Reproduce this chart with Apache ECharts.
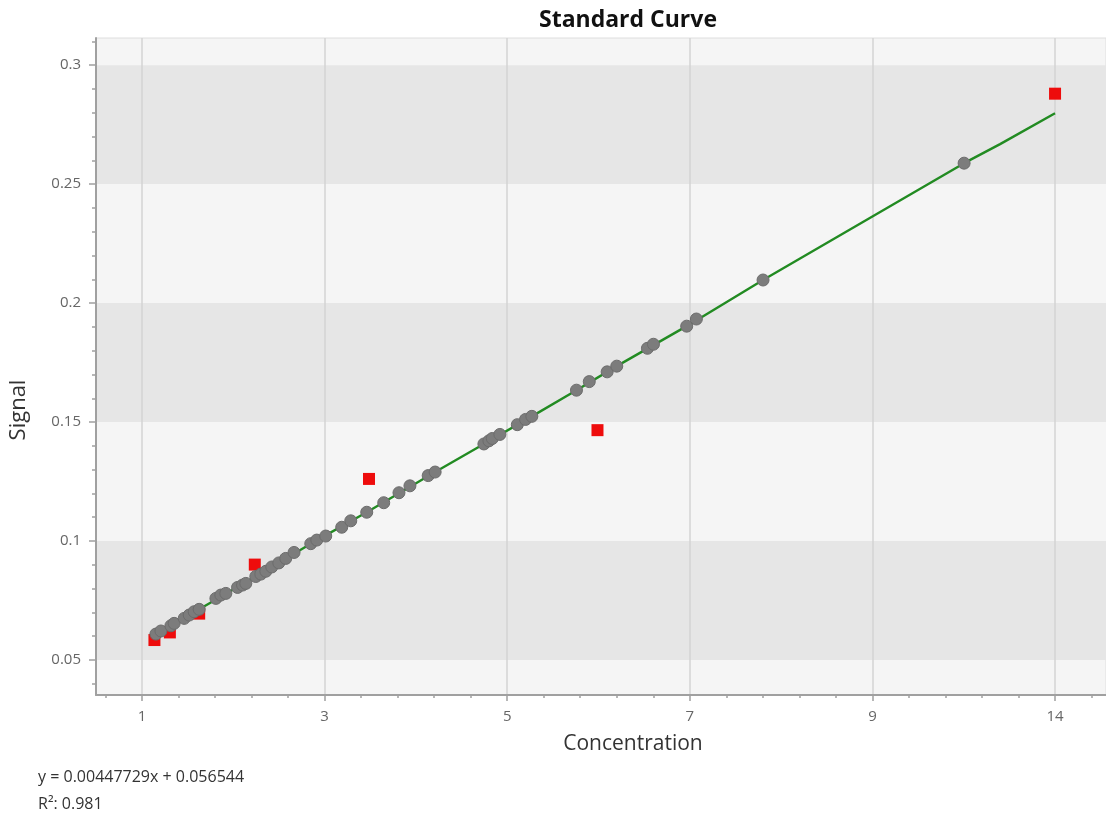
<!DOCTYPE html>
<html>
<head>
<meta charset="utf-8">
<script src="https://cdn.jsdelivr.net/npm/echarts@6/dist/echarts.min.js"></script>
<style>
html,body{margin:0;padding:0;background:#fff;}
#chart{width:1106px;height:820px;}
</style>
</head>
<body>
<div id="chart"></div>
<script>
// ---- data (x in axis-position units; tick labels below) ----
const xTickPos = [1, 3, 5, 7, 9, 11];
const xTickLabels = ['1', '3', '5', '7', '9', '14'];
const yTickPos = [0.05, 0.1, 0.15, 0.2, 0.25, 0.3];
const yTickLabels = ['0.05', '0.1', '0.15', '0.2', '0.25', '0.3'];

const sampleX = [1.153, 1.208, 1.317, 1.353, 1.463, 1.518, 1.572, 1.627, 1.810, 1.864,
  1.919, 2.047, 2.102, 2.138, 2.247, 2.302, 2.357, 2.422, 2.499, 2.575,
  2.666, 2.849, 2.915, 3.013, 3.188, 3.287, 3.462, 3.648, 3.815, 3.935,
  4.135, 4.211, 4.745, 4.800, 4.837, 4.920, 5.111, 5.201, 5.270, 5.759,
  5.899, 6.095, 6.200, 6.536, 6.602, 6.966, 7.072, 7.802, 10.004];
const sampleY = [0.0609, 0.0622, 0.0644, 0.0654, 0.0675, 0.0689, 0.0703, 0.0713, 0.0759, 0.0773,
  0.0780, 0.0805, 0.0815, 0.0822, 0.0851, 0.0861, 0.0873, 0.0891, 0.0908, 0.0927,
  0.0952, 0.0989, 0.1004, 0.1021, 0.1058, 0.1085, 0.1121, 0.1161, 0.1203, 0.1232,
  0.1275, 0.1290, 0.1408, 0.1421, 0.1431, 0.1448, 0.1489, 0.1511, 0.1524, 0.1634,
  0.1670, 0.1711, 0.1735, 0.1810, 0.1827, 0.1903, 0.1933, 0.2097, 0.2588];

const stdX = [1.137, 1.306, 1.627, 2.236, 3.487, 5.989, 11.0];
const stdY = [0.0584, 0.0616, 0.0695, 0.0901, 0.1261, 0.1466, 0.2880];

const curveX = [1.153, 1.627, 2.247, 2.849, 3.462, 4.211, 4.745, 5.270, 5.759, 6.200, 6.966, 7.802, 10.004, 10.398, 11.0];
const curveY = [0.0609, 0.0713, 0.0851, 0.0989, 0.1121, 0.1290, 0.1408, 0.1524, 0.1634, 0.1735, 0.1903, 0.2097, 0.2588, 0.2668, 0.2798];

const titleText = 'Standard Curve';
const xName = 'Concentration';
const yName = 'Signal';
const eqLine1 = 'y = 0.00447729x + 0.056544';
const eqLine2 = 'R\u00B2: 0.981';

// ---- axis extents ----
const X_MIN = 0.497, X_MAX = 11.558;
const Y_MIN = 0.0353, Y_MAX = 0.3114;

function minorTicks(major, sub, lo, hi) {
  const step = (major[1] - major[0]) / sub;
  const out = [];
  const k0 = Math.ceil((lo - major[0]) / step - 1e-9);
  const k1 = Math.floor((hi - major[0]) / step + 1e-9);
  for (let k = k0; k <= k1; k++) {
    if (k % sub === 0) continue;
    out.push(Math.round((major[0] + k * step) * 1e6) / 1e6);
  }
  return out;
}
const xMinor = minorTicks(xTickPos, 5, X_MIN, X_MAX);
const yMinor = minorTicks(yTickPos, 5, Y_MIN, Y_MAX);

const zip = (a, b) => a.map((v, i) => [v, b[i]]);
const FONT = '"Open Sans", "Noto Sans", sans-serif';
const AXIS_COLOR = '#a0a0a0';

const chart = echarts.init(document.getElementById('chart'), null, {renderer: 'canvas'});
chart.setOption({
  animation: false,
  backgroundColor: '#ffffff',
  textStyle: {fontFamily: FONT},
  title: {
    text: titleText,
    left: 623,
    top: 4,
    textAlign: 'center',
    textStyle: {fontFamily: FONT, fontSize: 23, fontWeight: 'bold', color: '#111'}
  },
  grid: {
    left: 95, right: 0, top: 38, bottom: 125,
    show: true, backgroundColor: '#f5f5f5', borderColor: '#dedede', borderWidth: 1,
    containLabel: false
  },
  xAxis: [{
    type: 'value', min: X_MIN, max: X_MAX, position: 'bottom',
    name: xName, nameLocation: 'middle', nameGap: 39,
    nameTextStyle: {fontFamily: FONT, fontSize: 21, color: '#333', padding: [0, 0, 0, 64]},
    axisLine: {show: true, onZero: false, lineStyle: {color: AXIS_COLOR, width: 2}},
    axisTick: {show: true, customValues: xTickPos, length: 6, lineStyle: {color: AXIS_COLOR, width: 1.5}},
    axisLabel: {customValues: xTickPos, margin: 14, color: '#666', fontSize: 15, fontFamily: FONT,
      formatter: v => xTickLabels[xTickPos.indexOf(v)]},
    splitLine: {show: true, lineStyle: {color: '#d3d3d3', width: 1.5}},
    minorTick: {show: false}
  }, {
    type: 'value', min: X_MIN, max: X_MAX, position: 'bottom', gridIndex: 0,
    axisLine: {show: false},
    axisTick: {show: true, customValues: xMinor, length: 3, lineStyle: {color: AXIS_COLOR, width: 1.5}},
    axisLabel: {show: false},
    splitLine: {show: false}
  }],
  yAxis: [{
    type: 'value', min: Y_MIN, max: Y_MAX, position: 'left',
    name: yName, nameLocation: 'middle', nameGap: 66, nameRotate: 90,
    nameTextStyle: {fontFamily: FONT, fontSize: 22, color: '#333', padding: [0, 87, 0, 0]},
    axisLine: {show: true, onZero: false, lineStyle: {color: AXIS_COLOR, width: 2}},
    axisTick: {show: true, customValues: yTickPos, length: 7, lineStyle: {color: AXIS_COLOR, width: 1.5}},
    axisLabel: {customValues: yTickPos, margin: 15, color: '#666', fontSize: 15, fontFamily: FONT,
      formatter: v => yTickLabels[yTickPos.indexOf(v)]},
    splitLine: {show: false},
    splitArea: {show: true, areaStyle: {color: ['#e6e6e6', '#f5f5f5']}}
  }, {
    type: 'value', min: Y_MIN, max: Y_MAX, position: 'left', gridIndex: 0,
    axisLine: {show: false},
    axisTick: {show: true, customValues: yMinor, length: 4, lineStyle: {color: AXIS_COLOR, width: 1.5}},
    axisLabel: {show: false},
    splitLine: {show: false},
    splitArea: {show: false}
  }],
  series: [{
    type: 'line', name: 'Curve', xAxisIndex: 0, yAxisIndex: 0,
    data: zip(curveX, curveY), showSymbol: false, symbol: 'none', smooth: false,
    lineStyle: {color: '#228b22', width: 2.4}, z: 2, silent: true
  }, {
    type: 'scatter', name: 'Standards', xAxisIndex: 0, yAxisIndex: 0,
    data: zip(stdX, stdY), symbol: 'rect', symbolSize: 12,
    itemStyle: {color: '#ee0c0c', opacity: 1}, z: 3
  }, {
    type: 'scatter', name: 'Samples', xAxisIndex: 0, yAxisIndex: 0,
    data: zip(sampleX, sampleY), symbol: 'circle', symbolSize: 12,
    itemStyle: {color: '#7c7c7c', borderColor: '#6c6c6c', borderWidth: 1, opacity: 1}, z: 4
  }],
  graphic: [{
    type: 'text', left: 38, top: 769,
    style: {text: eqLine1, font: '16px ' + FONT, fill: '#333'}
  }, {
    type: 'text', left: 38, top: 796,
    style: {text: eqLine2, font: '16px ' + FONT, fill: '#333'}
  }]
});
</script>
</body>
</html>
